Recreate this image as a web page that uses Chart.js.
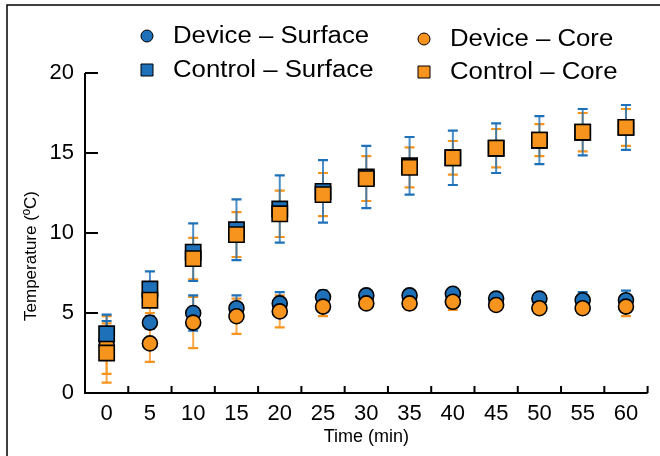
<!DOCTYPE html>
<html>
<head>
<meta charset="utf-8">
<script src="https://cdn.jsdelivr.net/npm/chart.js@4/dist/chart.umd.min.js"></script>
<style>
    html, body { margin: 0; padding: 0; background: #fff; }
</style>
</head>
<body>
<canvas id="chart" width="660" height="456"></canvas>
<script>
// time points (min) and temperature values
const timeLabels = ["0", "5", "10", "15", "20", "25", "30", "35", "40", "45", "50", "55", "60"];
const yTicks = [0, 5, 10, 15, 20];

const deviceSurface = [3.3, 4.4, 5.0, 5.3, 5.6, 6.0, 6.1, 6.1, 6.2, 5.9, 5.9, 5.8, 5.8];
const deviceSurfaceSd = [1.2, 0.4, 1.1, 0.8, 0.7, 0.4, 0.3, 0.3, 0.3, 0.3, 0.3, 0.5, 0.6];
const deviceCore = [3.0, 3.1, 4.4, 4.8, 5.1, 5.4, 5.6, 5.6, 5.7, 5.5, 5.3, 5.3, 5.4];
const deviceCoreSd = [1.8, 1.15, 1.6, 1.1, 1.0, 0.6, 0.3, 0.4, 0.5, 0.3, 0.3, 0.3, 0.6];
const controlSurface = [3.7, 6.5, 8.8, 10.2, 11.5, 12.6, 13.5, 14.2, 14.7, 15.3, 15.8, 16.3, 16.6];
const controlSurfaceSd = [1.2, 1.1, 1.8, 1.9, 2.1, 1.95, 1.95, 1.8, 1.7, 1.55, 1.5, 1.45, 1.4];
const controlCore = [2.5, 5.8, 8.4, 9.9, 11.2, 12.4, 13.4, 14.1, 14.7, 15.3, 15.8, 16.3, 16.6];
const controlCoreSd = [1.85, 0.8, 1.3, 1.4, 1.45, 1.35, 1.4, 1.25, 1.05, 1.2, 1.0, 1.2, 1.15];

const BLUE = "#1e71b8";
const ORANGE = "#f7941d";
const FONT = '"Liberation Sans", Arial, Helvetica, sans-serif';

function series(label, data, sd, color, style, radius, order) {
    return {
        label: label,
        data: data,
        errors: sd,
        errorColor: color,
        showLine: false,
        pointStyle: style,
        pointRadius: radius,
        pointBackgroundColor: color,
        pointBorderColor: "#000",
        pointBorderWidth: 1.6,
        order: order,
    };
}

// vertical error bars, drawn under the markers
const errorBars = {
    id: "errorBars",
    beforeDatasetsDraw(chart) {
        const ctx = chart.ctx;
        const y = chart.scales.y;
        [1, 3, 0, 2].forEach(function (di) {
            const ds = chart.data.datasets[di];
            const meta = chart.getDatasetMeta(di);
            ctx.save();
            meta.data.forEach(function (pt, i) {
                const top = y.getPixelForValue(ds.data[i] + ds.errors[i]);
                const bot = y.getPixelForValue(ds.data[i] - ds.errors[i]);
                ctx.strokeStyle = ds.errorColor;
                ctx.lineWidth = 2;
                ctx.globalAlpha = 0.8;
                ctx.beginPath();
                ctx.moveTo(pt.x, top);
                ctx.lineTo(pt.x, bot);
                ctx.stroke();
                ctx.globalAlpha = 1;
                ctx.lineWidth = 2.2;
                ctx.beginPath();
                ctx.moveTo(pt.x - 5, top);
                ctx.lineTo(pt.x + 5, top);
                ctx.moveTo(pt.x - 5, bot);
                ctx.lineTo(pt.x + 5, bot);
                ctx.stroke();
            });
            ctx.restore();
        });
    },
};

// axis lines with inward ticks, the outer frame and the y title
const axes = {
    id: "axes",
    beforeDatasetsDraw(chart) {
        const ctx = chart.ctx;
        const a = chart.chartArea;
        const x = chart.scales.x;
        const y = chart.scales.y;
        ctx.save();
        ctx.strokeStyle = "#000";
        ctx.lineWidth = 1.5;
        ctx.beginPath();
        ctx.moveTo(7, 456);
        ctx.lineTo(7, 5);
        ctx.lineTo(660, 5);
        ctx.stroke();

        ctx.lineWidth = 2;
        ctx.beginPath();
        ctx.moveTo(a.left, a.top);
        ctx.lineTo(a.left, a.bottom);
        ctx.lineTo(a.right, a.bottom);
        yTicks.forEach(function (v) {
            const py = y.getPixelForValue(v);
            ctx.moveTo(a.left, py);
            ctx.lineTo(a.left + 13, py);
        });
        for (let i = 0; i < timeLabels.length; i++) {
            const px = i < timeLabels.length - 1
                ? (x.getPixelForValue(i) + x.getPixelForValue(i + 1)) / 2
                : a.right;
            ctx.moveTo(px, a.bottom);
            ctx.lineTo(px, a.bottom - 7);
        }
        ctx.stroke();

        ctx.fillStyle = "#000";
        ctx.font = "17px " + FONT;
        ctx.textAlign = "center";
        ctx.textBaseline = "middle";
        ctx.translate(31, 256);
        ctx.rotate(-Math.PI / 2);
        ctx.fillText("Temperature (ºC)", 0, 0);
        ctx.restore();
    },
};

// two-column legend at the top
const legend = {
    id: "legendBox",
    afterDraw(chart) {
        const ctx = chart.ctx;
        const ds = chart.data.datasets;
        const spots = [
            { x: 147, y: 37 }, { x: 424, y: 40 },
            { x: 147, y: 71 }, { x: 424, y: 73 },
        ];
        ctx.save();
        ds.forEach(function (d, i) {
            const s = spots[i];
            ctx.fillStyle = d.pointBackgroundColor;
            ctx.strokeStyle = "#000";
            ctx.lineWidth = 1;
            ctx.beginPath();
            if (d.pointStyle === "circle") {
                ctx.arc(s.x, s.y - 1, 6, 0, Math.PI * 2);
            } else {
                ctx.rect(s.x - 6, s.y - 7, 12, 12);
            }
            ctx.fill();
            ctx.stroke();

            ctx.fillStyle = "#000";
            ctx.font = "23px " + FONT;
            ctx.textBaseline = "middle";
            ctx.save();
            ctx.translate(s.x + 26, s.y);
            ctx.scale(1.12, 1);
            ctx.fillText(d.label, 0, 0);
            ctx.restore();
        });
        ctx.restore();
    },
};

new Chart(document.getElementById("chart"), {
    type: "line",
    data: {
        labels: timeLabels,
        datasets: [
            series("Device – Surface", deviceSurface, deviceSurfaceSd, BLUE, "circle", 7.5, 4),
            series("Device – Core", deviceCore, deviceCoreSd, ORANGE, "circle", 7.5, 3),
            series("Control – Surface", controlSurface, controlSurfaceSd, BLUE, "rect", 10.8, 2),
            series("Control – Core", controlCore, controlCoreSd, ORANGE, "rect", 10.8, 1),
        ],
    },
    options: {
        responsive: false,
        devicePixelRatio: 1,
        animation: false,
        layout: { padding: { top: 73, right: 12, left: 0, bottom: 0 } },
        plugins: {
            legend: { display: false },
            tooltip: { enabled: false },
        },
        scales: {
            x: {
                type: "category",
                offset: true,
                grid: { display: false, drawTicks: false },
                border: { display: false },
                ticks: { color: "#000", padding: 8, font: { family: FONT, size: 22 } },
                title: {
                    display: true,
                    text: "Time (min)",
                    color: "#000",
                    font: { family: FONT, size: 18 },
                    padding: { top: 0, bottom: 8 },
                },
                afterFit: function (s) { s.height = 63; },
            },
            y: {
                min: 0,
                max: 20,
                grid: { display: false, drawTicks: false },
                border: { display: false },
                afterBuildTicks: function (s) {
                    s.ticks = yTicks.map(function (v) { return { value: v }; });
                },
                ticks: { color: "#000", padding: 11, font: { family: FONT, size: 22 } },
                afterFit: function (s) { s.width = 85; },
            },
        },
    },
    plugins: [errorBars, axes, legend],
});
</script>
</body>
</html>
